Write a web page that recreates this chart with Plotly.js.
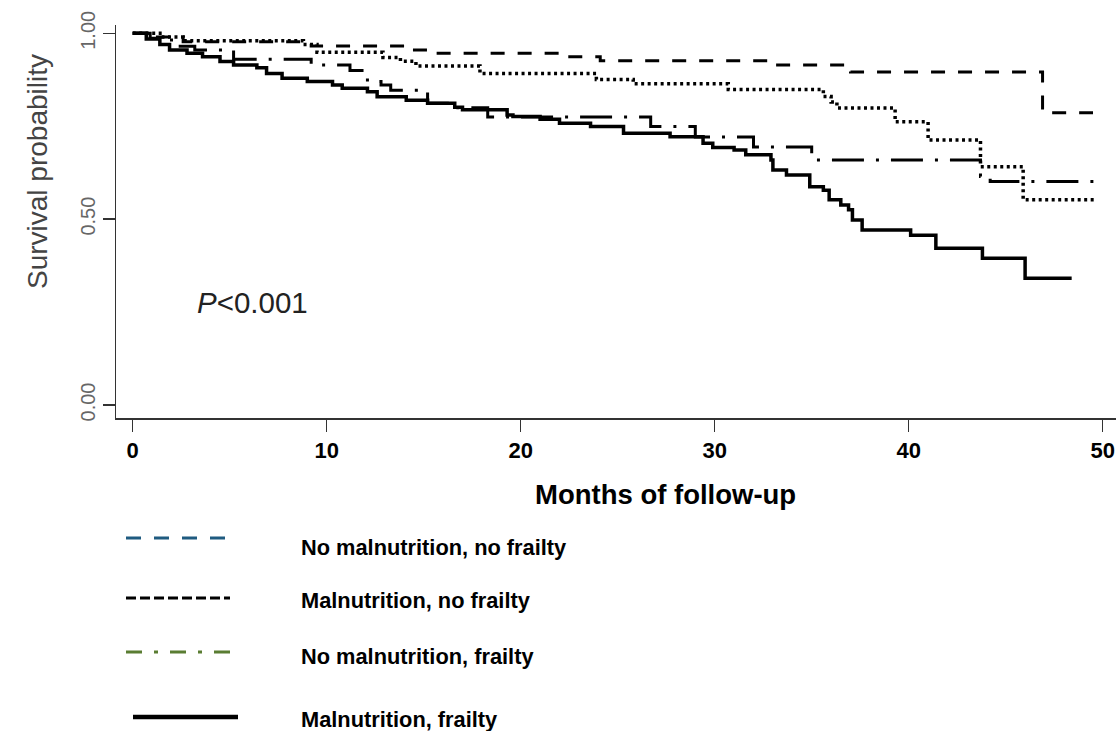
<!DOCTYPE html>
<html>
<head>
<meta charset="utf-8">
<script src="https://cdn.plot.ly/plotly-3.0.1.min.js"></script>
<style>
html,body{margin:0;padding:0;background:#fff;}
#chart{width:1118px;height:731px;}
</style>
</head>
<body>
<div id="chart"></div>
<script>
// ---- data ----
const groupNames = [
  "No malnutrition, no frailty",
  "Malnutrition, no frailty",
  "No malnutrition, frailty",
  "Malnutrition, frailty"
];
// No malnutrition, no frailty (long dashes)
const tNoMalNoFrail = [0, 1.2, 2.6, 9.2, 14.0, 15.5, 22.2, 24.1, 33.1, 37.0, 46.9, 49.5];
const sNoMalNoFrail = [1.0, 0.99, 0.977, 0.966, 0.955, 0.946, 0.937, 0.926, 0.915, 0.896, 0.786, 0.786];
// Malnutrition, no frailty (dotted)
const tMalNoFrail = [0, 1.5, 2.6, 8.8, 9.5, 12.9, 13.8, 14.6, 17.9, 23.9, 25.8, 30.7, 35.6, 36.0, 36.3, 39.3, 41.0, 43.7, 45.9, 49.7];
const sMalNoFrail = [1.0, 0.99, 0.98, 0.97, 0.949, 0.935, 0.925, 0.912, 0.892, 0.876, 0.864, 0.849, 0.83, 0.815, 0.799, 0.762, 0.713, 0.641, 0.552, 0.552];
// No malnutrition, frailty (dash-dot)
const tNoMalFrail = [0, 0.9, 2.0, 3.2, 5.2, 9.2, 11.2, 12.1, 12.8, 13.3, 15.2, 16.6, 18.3, 26.7, 29.0, 32.0, 35.0, 43.7, 44.2, 49.7];
const sNoMalFrail = [1.0, 0.987, 0.965, 0.955, 0.93, 0.915, 0.9, 0.87, 0.861, 0.847, 0.812, 0.8, 0.775, 0.749, 0.721, 0.694, 0.659, 0.615, 0.601, 0.601];
// Malnutrition, frailty (solid)
const tMalFrail = [0, 0.7, 1.4, 1.9, 2.8, 3.6, 4.5, 5.2, 6.4, 6.9, 7.7, 9.0, 10.3, 10.8, 12.1, 12.6, 14.1, 15.2, 16.6, 17.0, 19.3, 19.6, 21.0, 22.0, 23.6, 25.3, 27.7, 29.4, 29.9, 31.0, 31.6, 32.9, 33.0, 33.7, 34.9, 35.6, 35.9, 36.5, 36.9, 37.1, 37.6, 40.1, 41.4, 43.8, 46.0, 48.4];
const sMalFrail = [1.0, 0.985, 0.97, 0.955, 0.946, 0.937, 0.924, 0.915, 0.907, 0.892, 0.879, 0.87, 0.861, 0.852, 0.843, 0.829, 0.82, 0.812, 0.801, 0.794, 0.78, 0.776, 0.769, 0.758, 0.749, 0.731, 0.722, 0.704, 0.693, 0.686, 0.673, 0.659, 0.632, 0.619, 0.587, 0.578, 0.552, 0.538, 0.525, 0.498, 0.471, 0.457, 0.422, 0.395, 0.341, 0.341];

const xTickVals = [0, 10, 20, 30, 40, 50];
const yTickVals = [0, 0.5, 1];
const yTickText = ["0.00", "0.50", "1.00"];
const pText = "<i>P</i>&lt;0.001";
const xTitle = "Months of follow-up";
const yTitle = "Survival probability";

// ---- layout geometry (pixels) ----
const W = 1118, H = 731;
const L = 116, R = 1116, T = 25, B = 418;
const px = v => (v - L) / (R - L);
const py = v => (B - v) / (B - T);

function kmTrace(t, s, dash, width) {
  return {x: t, y: s, type: "scatter", mode: "lines",
    line: {shape: "hv", color: "#000", width: width, dash: dash},
    showlegend: false, hoverinfo: "skip"};
}
const traces = [
  kmTrace(tNoMalNoFrail, sNoMalNoFrail, "14px,13px", 3),
  kmTrace(tMalNoFrail, sMalNoFrail, "3px,3.5px", 3.5),
  kmTrace(tNoMalFrail, sNoMalFrail, "32px,12px,3px,12px", 3),
  kmTrace(tMalFrail, sMalFrail, "solid", 3.5)
];

// legend samples
const legendRows = [
  {y: 538, ty: 547, x0: 126, x1: 230, color: "#1f5b80", dash: "15px,13px", w: 3},
  {y: 598, ty: 600, x0: 126, x1: 230, color: "#000000", dash: "10px,4px", w: 3},
  {y: 652, ty: 656, x0: 126, x1: 230, color: "#5a7d32", dash: "16px,12px,4px,12px", w: 3},
  {y: 717, ty: 719, x0: 133, x1: 238, color: "#000000", dash: "solid", w: 4.5}
];
const shapes = legendRows.map(r => ({
  type: "line", xref: "paper", yref: "paper",
  x0: px(r.x0), x1: px(r.x1), y0: py(r.y), y1: py(r.y),
  line: {color: r.color, width: r.w, dash: r.dash}
}));
const annotations = legendRows.map((r, i) => ({
  xref: "paper", yref: "paper", x: px(299), y: py(r.ty),
  xanchor: "left", yanchor: "middle", showarrow: false,
  text: groupNames[i],
  font: {family: "Liberation Sans, Arial, sans-serif", size: 21.8, color: "#000", weight: "bold"}
}));
annotations.push({
  xref: "paper", yref: "paper", x: px(665), y: py(495),
  xanchor: "center", yanchor: "middle", showarrow: false, text: xTitle,
  font: {family: "Liberation Sans, Arial, sans-serif", size: 27.5, color: "#000", weight: "bold"}
});
annotations.push({
  xref: "paper", yref: "paper", x: px(38), y: py(172),
  xanchor: "center", yanchor: "middle", showarrow: false, text: yTitle, textangle: -90,
  font: {family: "Liberation Sans, Arial, sans-serif", size: 28, color: "#444"}
});
annotations.push({
  xref: "paper", yref: "paper", x: px(195), y: py(302),
  xanchor: "left", yanchor: "middle", showarrow: false, text: pText,
  font: {family: "Liberation Sans, Arial, sans-serif", size: 29.5, color: "#222"}
});

const layout = {
  width: W, height: H,
  margin: {l: L, r: W - R, t: T, b: H - B, pad: 0},
  paper_bgcolor: "#fff", plot_bgcolor: "#fff",
  xaxis: {
    range: [(L - 132.7) / 19.4, (R - 132.7) / 19.4],
    tickvals: xTickVals, ticks: "outside", ticklen: 12, tickwidth: 1.5, tickcolor: "#333",
    showline: true, linecolor: "#333", linewidth: 1.5, showgrid: false, zeroline: false,
    tickfont: {family: "Liberation Sans, Arial, sans-serif", size: 22, color: "#000", weight: "bold"},
    fixedrange: true
  },
  yaxis: {
    range: [(405 - B) / 371.7, (405 - T) / 371.7],
    tickvals: yTickVals, ticktext: yTickText, tickangle: -90,
    ticks: "outside", ticklen: 12, tickwidth: 1.5, tickcolor: "#333",
    showline: true, linecolor: "#333", linewidth: 1.5, showgrid: false, zeroline: false,
    tickfont: {family: "Liberation Sans, Arial, sans-serif", size: 20, color: "#666"},
    fixedrange: true
  },
  shapes: shapes,
  annotations: annotations
};

Plotly.newPlot("chart", traces, layout, {displayModeBar: false, staticPlot: true});
</script>
</body>
</html>
